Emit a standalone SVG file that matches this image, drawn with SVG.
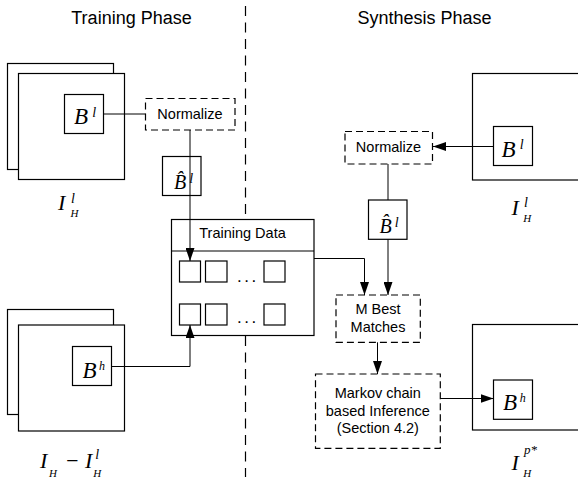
<svg xmlns="http://www.w3.org/2000/svg" width="578" height="477" viewBox="0 0 578 477">
<style>
.b{fill:#fff;stroke:#000;stroke-width:1.2}
.d{fill:#fff;stroke:#000;stroke-width:1.2;stroke-dasharray:7 4}
.t{font-family:"Liberation Sans",Arial,sans-serif;font-size:14.5px;fill:#000}
.dots{font-family:"Liberation Sans",Arial,sans-serif;font-size:17px;letter-spacing:2.5px;fill:#000}
.h{font-family:"Liberation Sans",Arial,sans-serif;font-size:18px;fill:#000}
.m{font-family:"Liberation Serif","Times New Roman",serif;font-style:italic;fill:#000}
.c{fill:none;stroke:#000;stroke-width:1}
.ca{fill:none;stroke:#000;stroke-width:1;marker-end:url(#ah)}
</style>
<defs>
<marker id="ah" markerWidth="13" markerHeight="9" refX="13" refY="4.5" orient="auto" markerUnits="userSpaceOnUse"><path d="M0,0 L13,4.5 L0,9 z" fill="#000"/></marker>
</defs>
<rect width="578" height="477" fill="#fff"/>
<line id="divider" x1="245.5" y1="6" x2="245.5" y2="477" stroke="#000" stroke-width="1.2" stroke-dasharray="10 6.5"/>
<text class="h" x="131.5" y="24" text-anchor="middle">Training Phase</text>
<text class="h" x="424.5" y="24" text-anchor="middle">Synthesis Phase</text>

<g id="train-low-image">
<rect class="b" x="7.5" y="63.5" width="106" height="106"/>
<rect class="b" x="18.5" y="73.5" width="106" height="106"/>
<text class="m" x="58" y="210" font-size="22">I</text>
<text class="m" x="71" y="202.5" font-size="14">l</text>
<text class="m" x="70.5" y="216.5" font-size="11">H</text>
</g>
<g id="train-bl">
<rect class="b" x="64.5" y="94.5" width="39" height="39"/>
<text class="m" x="74" y="124.3" font-size="23">B</text>
<text class="m" x="92.3" y="116.5" font-size="14">l</text>
</g>
<g id="train-normalize">
<rect class="d" x="145.5" y="98.5" width="89.5" height="31.5"/>
<text class="t" x="190" y="119.3" text-anchor="middle">Normalize</text>
</g>
<g id="train-bhat">
<rect class="b" x="162.5" y="156.5" width="38.5" height="39"/>
<text class="m" x="174" y="189.3" font-size="20">B&#x302;</text>
<text class="m" x="189.3" y="183.3" font-size="14">l</text>
</g>
<g id="train-diff-image">
<rect class="b" x="7.5" y="309.5" width="106" height="105"/>
<rect class="b" x="18.5" y="325" width="106" height="106"/>
<text class="m" x="40" y="468.3" font-size="22">I</text>
<text class="m" x="49" y="476.5" font-size="11">H</text>
<text class="m" x="64.5" y="468.3" font-size="22">−</text>
<text class="m" x="85" y="468.3" font-size="22">I</text>
<text class="m" x="95.3" y="459.3" font-size="14">l</text>
<text class="m" x="93.3" y="476.5" font-size="11">H</text>
</g>
<g id="train-bh">
<rect class="b" x="72.5" y="346.5" width="39" height="39"/>
<text class="m" x="82.5" y="378.3" font-size="23">B</text>
<text class="m" x="99" y="370" font-size="12">h</text>
</g>
<g id="training-data">
<rect class="b" x="171.5" y="219.5" width="142.5" height="116"/>
<line x1="171.5" y1="251" x2="314" y2="251" stroke="#000" stroke-width="1.2"/>
<text class="t" x="242.5" y="238" text-anchor="middle">Training Data</text>
<rect class="b" x="179.5" y="261" width="21" height="21"/>
<rect class="b" x="205.5" y="261" width="21.5" height="21"/>
<rect class="b" x="264" y="261" width="21" height="21"/>
<text class="dots" x="237" y="281.5">...</text>
<rect class="b" x="179.5" y="304" width="21" height="21"/>
<rect class="b" x="205.5" y="304" width="21.5" height="21"/>
<rect class="b" x="264" y="304" width="21" height="21"/>
<text class="dots" x="237" y="323">...</text>
</g>

<g id="syn-low-image">
<rect class="b" x="472.5" y="73.5" width="120" height="106.5"/>
<text class="m" x="511.5" y="215" font-size="22">I</text>
<text class="m" x="524" y="206.7" font-size="14">l</text>
<text class="m" x="523.3" y="221.7" font-size="11">H</text>
</g>
<g id="syn-bl">
<rect class="b" x="493.5" y="126.5" width="39" height="39"/>
<text class="m" x="501.5" y="156.7" font-size="23">B</text>
<text class="m" x="519.7" y="149" font-size="14">l</text>
</g>
<g id="syn-normalize">
<rect class="d" x="345" y="131.5" width="87.5" height="32.5"/>
<text class="t" x="388.5" y="151.7" text-anchor="middle">Normalize</text>
</g>
<g id="syn-bhat">
<rect class="b" x="368.5" y="200" width="38.5" height="39.3"/>
<text class="m" x="379.5" y="232.6" font-size="20">B&#x302;</text>
<text class="m" x="394.8" y="226.6" font-size="14">l</text>
</g>
<g id="m-best">
<rect class="d" x="336" y="295" width="84.3" height="47.3"/>
<text class="t" x="378" y="314" text-anchor="middle">M Best</text>
<text class="t" x="378" y="331.7" text-anchor="middle">Matches</text>
</g>
<g id="markov">
<rect class="d" x="315.5" y="374" width="124.8" height="74.3"/>
<text class="t" x="377.8" y="397.7" text-anchor="middle">Markov chain</text>
<text class="t" x="377.8" y="415.7" text-anchor="middle">based Inference</text>
<text class="t" x="377.8" y="433.3" text-anchor="middle">(Section 4.2)</text>
</g>
<g id="syn-out-image">
<rect class="b" x="472.5" y="324.5" width="120" height="105.5"/>
<text class="m" x="511.5" y="470" font-size="22">I</text>
<text class="m" x="524" y="453.7" font-size="13">p*</text>
<text class="m" x="523.3" y="476.5" font-size="11">H</text>
</g>
<g id="syn-bh">
<rect class="b" x="493.5" y="380" width="39" height="39.3"/>
<text class="m" x="503" y="410" font-size="23">B</text>
<text class="m" x="519.7" y="402" font-size="12">h</text>
</g>

<g id="connectors">
<line class="c" x1="103.5" y1="114" x2="145.5" y2="114"/>
<polyline class="ca" points="190,130 190,261"/>
<polyline class="ca" points="111.5,366.5 190,366.5 190,325"/>
<polyline class="ca" points="314,258.5 364.5,258.5 364.5,295"/>
<line class="c" x1="388" y1="164" x2="388" y2="200"/>
<polyline class="ca" points="388,239.3 388,295"/>
<polyline class="ca" points="493.5,146.5 433,146.5"/>
<polyline class="ca" points="377.5,342.3 377.5,374"/>
<polyline class="ca" points="440.3,398.5 493.5,398.5"/>
</g>
</svg>
